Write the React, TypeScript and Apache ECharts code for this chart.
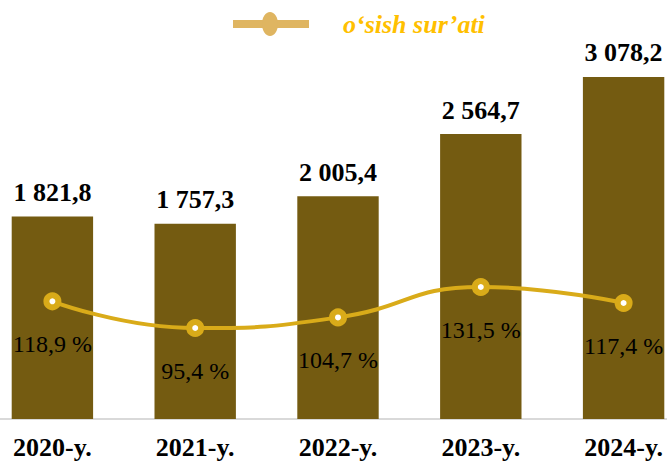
import React, { useEffect, useRef } from "react";
import * as echarts from "echarts";

const categories = ["2020-y.", "2021-y.", "2022-y.", "2023-y.", "2024-y."];
const barValues = [1821.8, 1757.3, 2005.4, 2564.7, 3078.2];
const growthValues = [118.9, 95.4, 104.7, 131.5, 117.4];
const lineName = "o‘sish sur’ati";

const FONT = "'Liberation Serif', 'Times New Roman', serif";
const OFFSET = 19;

function fmtBar(v: number): string {
  const [i, d] = v.toFixed(1).split(".");
  const withSpaces = i.replace(/\B(?=(\d{3})+(?!\d))/g, " ");
  return withSpaces + "," + d;
}
function fmtPct(v: number): string {
  return v.toFixed(1).replace(".", ",") + " %";
}

export default function App() {
  const ref = useRef<HTMLDivElement>(null);
  useEffect(() => {
    if (!ref.current) return;
    const chart = echarts.init(ref.current, null, { renderer: "svg" });
    chart.setOption({
      animation: false,
      backgroundColor: "#ffffff",
      grid: { left: 0, right: 0, top: 0, bottom: 42, containLabel: false },
      xAxis: {
        type: "category",
        data: categories,
        axisLine: { show: true, lineStyle: { color: "#d9d9d9", width: 2 } },
        axisTick: { show: false },
        axisLabel: {
          color: "#000",
          fontFamily: FONT,
          fontWeight: "bold",
          fontSize: 26,
          margin: 15,
        },
      },
      yAxis: [
        { type: "value", min: 0, max: 3771, show: false, splitLine: { show: false } },
        { type: "value", min: 15.3, max: 384.1, show: false, splitLine: { show: false } },
      ],
      series: [
        {
          type: "bar",
          data: barValues,
          barWidth: "57%",
          itemStyle: { color: "#745b11" },
          label: {
            show: true,
            position: "top",
            distance: 11,
            color: "#000",
            fontFamily: FONT,
            fontWeight: "bold",
            fontSize: 26,
            formatter: (p: any) => fmtBar(p.value),
          },
          z: 1,
        },
        {
          type: "line",
          name: lineName,
          yAxisIndex: 1,
          data: growthValues,
          smooth: 0.5,
          symbol: "circle",
          symbolSize: 12,
          lineStyle: { color: "#d9ab19", width: 4 },
          itemStyle: { color: "#ffffff", borderColor: "#d9ab19", borderWidth: 6 },
          label: {
            show: true,
            position: "bottom",
            distance: 22,
            color: "#000",
            fontFamily: FONT,
            fontSize: 24,
            formatter: (p: any) => fmtPct(p.value),
          },
          z: 3,
        },
      ],
      graphic: [
        {
          type: "rect",
          shape: { x: 233 + OFFSET, y: 20, width: 76, height: 8 },
          style: { fill: "#dfb561" },
        },
        {
          type: "ellipse",
          shape: { cx: 270 + OFFSET, cy: 24, rx: 8, ry: 12 },
          style: { fill: "#dfb561" },
        },
        {
          type: "text",
          x: 343 + OFFSET,
          y: 24,
          style: {
            text: lineName,
            fill: "#ffc000",
            font: "italic bold 26px " + FONT,
            verticalAlign: "middle",
          },
        },
      ],
    });
    return () => chart.dispose();
  }, []);
  return (
    <div style={{ position: "fixed", left: 0, top: 0, width: 667, height: 461, overflow: "hidden", background: "#fff" }}>
      <div ref={ref} style={{ width: 714, height: 461, position: "absolute", left: -OFFSET, top: 0 }} />
    </div>
  );
}
